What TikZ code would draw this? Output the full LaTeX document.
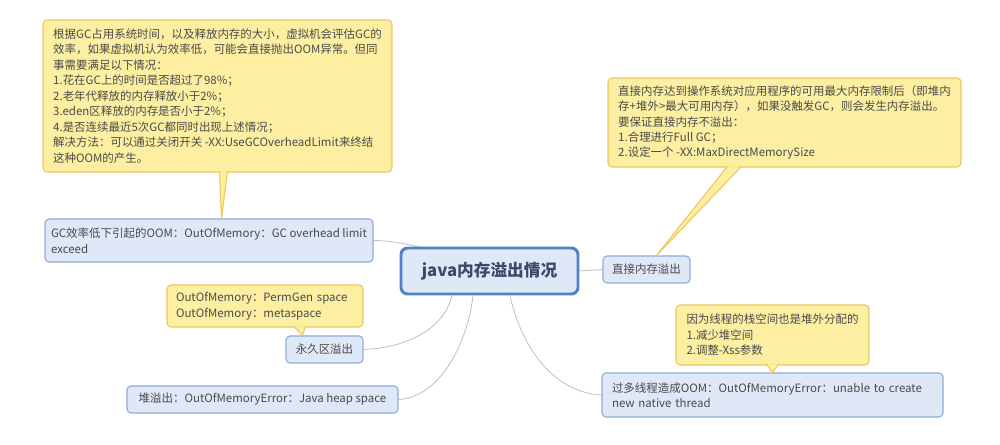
\documentclass[tikz,border=0pt]{standalone}
\usepackage{fontspec}
\setmainfont{Noto Sans CJK SC}
\usetikzlibrary{calc,backgrounds}
\definecolor{notefill}{HTML}{FCEFA2}
\definecolor{notedraw}{HTML}{EFC75E}
\definecolor{nodefill}{HTML}{DFE8F6}
\definecolor{nodedraw}{HTML}{8EABDA}
\definecolor{rootdraw}{HTML}{4F81C4}
\definecolor{conncol}{HTML}{B8C0D0}
\definecolor{txtcol}{HTML}{4A4A4A}
\definecolor{roottxt}{HTML}{3B4A6B}
\tikzset{
  box/.style 2 args={minimum width=#1*0.75pt, minimum height=#2*0.75pt, inner sep=0pt,
    rounded corners=3pt, align=left, font=\fontsize{8.6}{11.6}\selectfont, text=txtcol},
  note/.style 2 args={box={#1}{#2}, fill=notefill, draw=notedraw, line width=0.8pt},
  topic/.style 2 args={box={#1}{#2}, fill=nodefill, draw=nodedraw, line width=0.8pt},
  tw/.style={text width=#1*0.75pt},
  conn/.style={draw=conncol, line width=0.6pt},
  tail/.style={fill=notefill, draw=notedraw, line width=0.8pt, line join=round},
}
\begin{document}
\begin{tikzpicture}[x=0.75pt,y=-0.75pt]
\useasboundingbox (0,0) rectangle (1000,445);

% central topic
\node[box={177}{46}, fill=nodefill, draw=rootdraw, line width=2.2pt, rounded corners=5pt,
      font=\fontsize{12.5}{15}\selectfont\bfseries, text=roottxt] (root) at (489.5,271) {java内存溢出情况};

% topics
\node[topic={328}{43}] (gc) at (209,240.5) {GC效率低下引起的OOM：OutOfMemory：GC overhead limit\\exceed};
\node[topic={87}{27}] (direct) at (646.5,269.5) {直接内存溢出};
\node[topic={77}{27}] (yj) at (324.5,349.5) {永久区溢出};
\node[topic={271}{27}] (heap) at (262.5,399.5) {堆溢出：OutOfMemoryError：Java heap space};
\node[topic={341}{44}, tw=321] (thread) at (772.5,395) {过多线程造成OOM：OutOfMemoryError：unable to create\\new native thread};

% callouts
\node[note={349}{152}] (note1) at (217.5,96) {根据GC占用系统时间，以及释放内存的大小，虚拟机会评估GC的\\
效率，如果虚拟机认为效率低，可能会直接抛出OOM异常。但同\\
事需要满足以下情况：\\
1.花在GC上的时间是否超过了98\%；\\
2.老年代释放的内存释放小于2\%；\\
3.eden区释放的内存是否小于2\%；\\
4.是否连续最近5次GC都同时出现上述情况；\\
解决方法：可以通过关闭开关 -XX:UseGCOverheadLimit来终结\\
这种OOM的产生。};
\node[note={353}{89}] (note2) at (784.5,122.5) {直接内存达到操作系统对应用程序的可用最大内存限制后（即堆内\\
存+堆外>最大可用内存），如果没触发GC，则会发生内存溢出。\\
要保证直接内存不溢出：\\
1.合理进行Full GC；\\
2.设定一个 -XX:MaxDirectMemorySize};
\node[note={196}{42}, tw=178] (note3) at (265,306) {OutOfMemory：PermGen space\\OutOfMemory：metaspace};
\node[note={193}{60}] (note4) at (772.5,335) {因为线程的栈空间也是堆外分配的\\1.减少堆空间\\2.调整-Xss参数};

% callout tails
\path[tail] ($(note1.south west)+(177,-1.2)$) -- ($(gc.north west)+(177,0)$) -- ($(note1.south west)+(185,-1.2)$);
\path[tail] ($(note2.south west)+(120,-1.2)$) -- ($(direct.north west)+(54,0)$) -- ($(note2.south west)+(134,-1.2)$);
\path[tail] ($(note3.south west)+(127,-1.2)$) -- ($(yj.north west)+(17,0)$) -- ($(note3.south west)+(139,-1.2)$);
\path[tail] ($(note4.south west)+(91,-1.2)$) -- ($(thread.north west)+(171,0)$) -- ($(note4.south west)+(103,-1.2)$);

% connectors
\begin{scope}[on background layer]
  \fill[white] (0,0) rectangle (1000,445);
  \draw[conn] (gc.east) .. controls +(20,0) and +(-60,-25) .. (root.center);
  \draw[conn] (root.east) -- (direct.west);
  \draw[conn] ([xshift=-37.5*0.75pt]root.south) .. controls +(-7,31) and +(47,-2) .. (yj.east);
  \draw[conn] ([xshift=-16.5*0.75pt]root.south) .. controls +(-5,46) and +(42,-2) .. (heap.east);
  \draw[conn] ([xshift=20.5*0.75pt]root.south) .. controls +(10,46) and +(-52,-3) .. (thread.west);
\end{scope}
\end{tikzpicture}
\end{document}
